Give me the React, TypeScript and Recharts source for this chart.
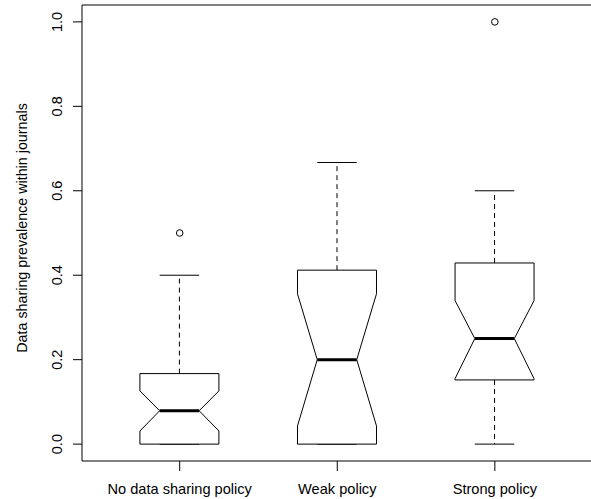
import { ComposedChart, Bar, Scatter, XAxis, YAxis, ReferenceArea } from 'recharts';

const categories = ['No data sharing policy', 'Weak policy', 'Strong policy'];
const positions = [1, 2, 3];
const whiskerLow = [0, 0, 0];
const q1 = [0, 0, 0.152];
const notchLow = [0.031, 0.043, 0.155];
const median = [0.079, 0.2, 0.25];
const notchHigh = [0.126, 0.356, 0.34];
const q3 = [0.167, 0.412, 0.429];
const whiskerHigh = [0.4, 0.667, 0.6];

const outlierPos = [1, 3];
const outlierValues = [0.5, 1.0];

const yTicks = [0, 0.2, 0.4, 0.6, 0.8, 1.0];
const xDomain = [0.38, 3.68];
const yDomain = [-0.04, 1.04];

const FONT = '"Liberation Sans", Arial, Helvetica, sans-serif';

const boxData = categories.map((name, i) => ({
  name,
  pos: positions[i],
  range: [whiskerLow[i], whiskerHigh[i]],
  lo: whiskerLow[i],
  q1: q1[i],
  nl: notchLow[i],
  med: median[i],
  nh: notchHigh[i],
  q3: q3[i],
  hi: whiskerHigh[i],
}));

const outliers = outlierPos.map((pos, i) => ({ pos, value: outlierValues[i] }));

function BoxShape(props: any) {
  const { x, y, width, height, payload } = props;
  const top = Math.min(y, y + height);
  const bottom = Math.max(y, y + height);
  const { lo, hi } = payload;
  const py = (v: number) => bottom - ((v - lo) / (hi - lo)) * (bottom - top);
  const cx = x + width / 2;
  const w = width / 2;
  const h = w / 2;
  const d = [
    `M${cx - w},${py(payload.q3)}`,
    `L${cx + w},${py(payload.q3)}`,
    `L${cx + w},${py(payload.nh)}`,
    `L${cx + h},${py(payload.med)}`,
    `L${cx + w},${py(payload.nl)}`,
    `L${cx + w},${py(payload.q1)}`,
    `L${cx - w},${py(payload.q1)}`,
    `L${cx - w},${py(payload.nl)}`,
    `L${cx - h},${py(payload.med)}`,
    `L${cx - w},${py(payload.nh)}`,
    'Z',
  ].join(' ');
  return (
    <g>
      {payload.hi > payload.q3 && (
        <line x1={cx} x2={cx} y1={py(payload.q3)} y2={py(payload.hi)} stroke="#000" strokeDasharray="5 4" />
      )}
      {payload.lo < payload.q1 && (
        <line x1={cx} x2={cx} y1={py(payload.q1)} y2={py(payload.lo)} stroke="#000" strokeDasharray="5 4" />
      )}
      <line x1={cx - h} x2={cx + h} y1={py(payload.hi)} y2={py(payload.hi)} stroke="#000" />
      <line x1={cx - h} x2={cx + h} y1={py(payload.lo)} y2={py(payload.lo)} stroke="#000" />
      <path d={d} fill="#fff" stroke="#000" strokeWidth={1} />
      <line x1={cx - h} x2={cx + h} y1={py(payload.med)} y2={py(payload.med)} stroke="#000" strokeWidth={3} />
    </g>
  );
}

function OutlierDot(props: any) {
  const { cx, cy } = props;
  return <circle cx={cx} cy={cy} r={3.3} fill="none" stroke="#000" strokeWidth={1} />;
}

function XTick(props: any) {
  const { x, y, payload } = props;
  const idx = positions.indexOf(payload.value);
  return (
    <text x={x} y={y} textAnchor="middle" fontFamily={FONT} fontSize={14.6} fill="#000">
      {categories[idx]}
    </text>
  );
}

function YTick(props: any) {
  const { x, y, payload } = props;
  return (
    <text
      x={x}
      y={y}
      transform={`rotate(-90, ${x}, ${y})`}
      textAnchor="middle"
      fontFamily={FONT}
      fontSize={14.5}
      fill="#000"
    >
      {Number(payload.value).toFixed(1)}
    </text>
  );
}

function YTitle(props: any) {
  const { viewBox } = props;
  const tx = viewBox.x + 27;
  const ty = viewBox.y + viewBox.height / 2 - 5;
  return (
    <text
      x={tx}
      y={ty}
      transform={`rotate(-90, ${tx}, ${ty})`}
      textAnchor="middle"
      fontFamily={FONT}
      fontSize={14.3}
      fill="#000"
    >
      Data sharing prevalence within journals
    </text>
  );
}

export default function App() {
  return (
    <div style={{ position: 'absolute', left: 0, top: 0, width: 591, height: 499, overflow: 'hidden', background: '#fff' }}>
      <div style={{ width: 603, height: 499 }}>
        <ComposedChart
          width={603}
          height={499}
          data={boxData}
          margin={{ top: 5, right: 1, bottom: 0, left: 0 }}
        >
          <XAxis
            dataKey="pos"
            type="number"
            domain={xDomain}
            allowDataOverflow
            ticks={positions}
            height={38}
            axisLine={false}
            tickLine={{ stroke: '#000' }}
            tickSize={10}
            tickMargin={23}
            tick={<XTick />}
            interval={0}
          />
          <YAxis
            type="number"
            domain={yDomain}
            allowDataOverflow
            ticks={yTicks}
            width={82}
            axisLine={false}
            tickLine={{ stroke: '#000' }}
            tickSize={9}
            tickMargin={11}
            tick={<YTick />}
            interval={0}
            label={<YTitle />}
          />
          <Bar dataKey="range" barSize={79} shape={<BoxShape />} isAnimationActive={false} />
          <Scatter data={outliers} dataKey="value" shape={<OutlierDot />} isAnimationActive={false} />
          <ReferenceArea
            x1={xDomain[0]}
            x2={xDomain[1]}
            y1={yDomain[0]}
            y2={yDomain[1]}
            fill="none"
            stroke="#000"
            strokeWidth={1}
            ifOverflow="visible"
          />
        </ComposedChart>
      </div>
    </div>
  );
}
